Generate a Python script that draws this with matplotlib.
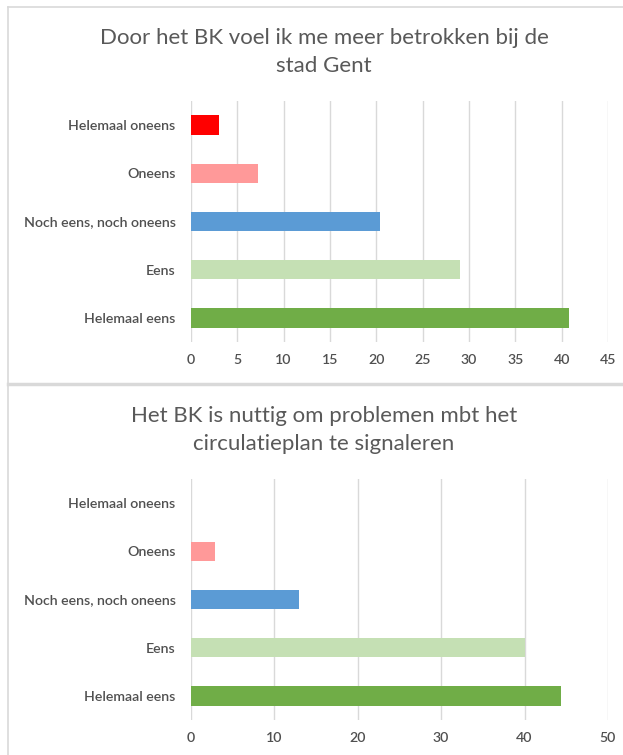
import matplotlib
matplotlib.use('Agg')
import matplotlib.pyplot as plt
from matplotlib.lines import Line2D

categories = ['Helemaal eens', 'Eens', 'Noch eens, noch oneens', 'Oneens', 'Helemaal oneens']
colors = ['#70AD47', '#C5E0B4', '#5B9BD5', '#FF9999', '#FF0000']

title_top = 'Door het BK voel ik me meer betrokken bij de\nstad Gent'
values_top = [40.8, 29.0, 20.4, 7.2, 3.0]
ticks_top = [0, 5, 10, 15, 20, 25, 30, 35, 40, 45]

title_bottom = 'Het BK is nuttig om problemen mbt het\ncirculatieplan te signaleren'
values_bottom = [44.4, 40.0, 12.9, 2.9, 0]
ticks_bottom = [0, 10, 20, 30, 40, 50]

plt.rcParams['font.family'] = ['Lato', 'DejaVu Sans']
text_col = '#595959'
grid_col = '#d9d9d9'

W, H = 623, 755
fig = plt.figure(figsize=(W / 100, H / 100), dpi=100)


def draw_panel(rect, values, ticks, title, title_y):
    ax = fig.add_axes(rect)
    y = range(len(categories))
    ax.barh(y, values, height=0.4, color=colors, zorder=3)
    ax.set_xlim(ticks[0], ticks[-1])
    ax.set_ylim(-0.5, len(categories) - 0.5)
    ax.set_xticks(ticks)
    ax.set_yticks(list(y))
    ax.set_yticklabels(categories)
    ax.grid(axis='x', color=grid_col, linewidth=1, zorder=0)
    for s in ax.spines.values():
        s.set_visible(False)
    ax.tick_params(length=0, colors='#505050', labelsize=10.2)
    ax.tick_params(axis='x', pad=9)
    ax.tick_params(axis='y', pad=11)
    for lab in ax.get_xticklabels() + ax.get_yticklabels():
        lab.set_fontweight('semibold')
    fig.text(0.52, title_y, title, ha='center', va='center', fontsize=16,
             color=text_col, linespacing=1.55)
    return ax


def frac_x(px):
    return px / W


def frac_y(px):
    return 1 - px / H


# top panel: plot area 101..342 px, x 191..608 px
draw_panel([frac_x(191), frac_y(342), frac_x(608) - frac_x(191), (342 - 101) / H],
           values_top, ticks_top, title_top, frac_y(52))
# bottom panel: plot area 479..720 px
draw_panel([frac_x(191), frac_y(720), frac_x(608) - frac_x(191), (720 - 479) / H],
           values_bottom, ticks_bottom, title_bottom, frac_y(430))

# chart frames
border = '#d9d9d9'
fig.add_artist(Line2D([frac_x(8), frac_x(8)], [frac_y(7), 0], color=border, lw=1.2))
fig.add_artist(Line2D([frac_x(8), 1], [frac_y(7), frac_y(7)], color=border, lw=1.2))
fig.add_artist(Line2D([frac_x(8), 1], [frac_y(383.5), frac_y(383.5)], color=border, lw=2.5))

fig.savefig('out.png', dpi=100)
